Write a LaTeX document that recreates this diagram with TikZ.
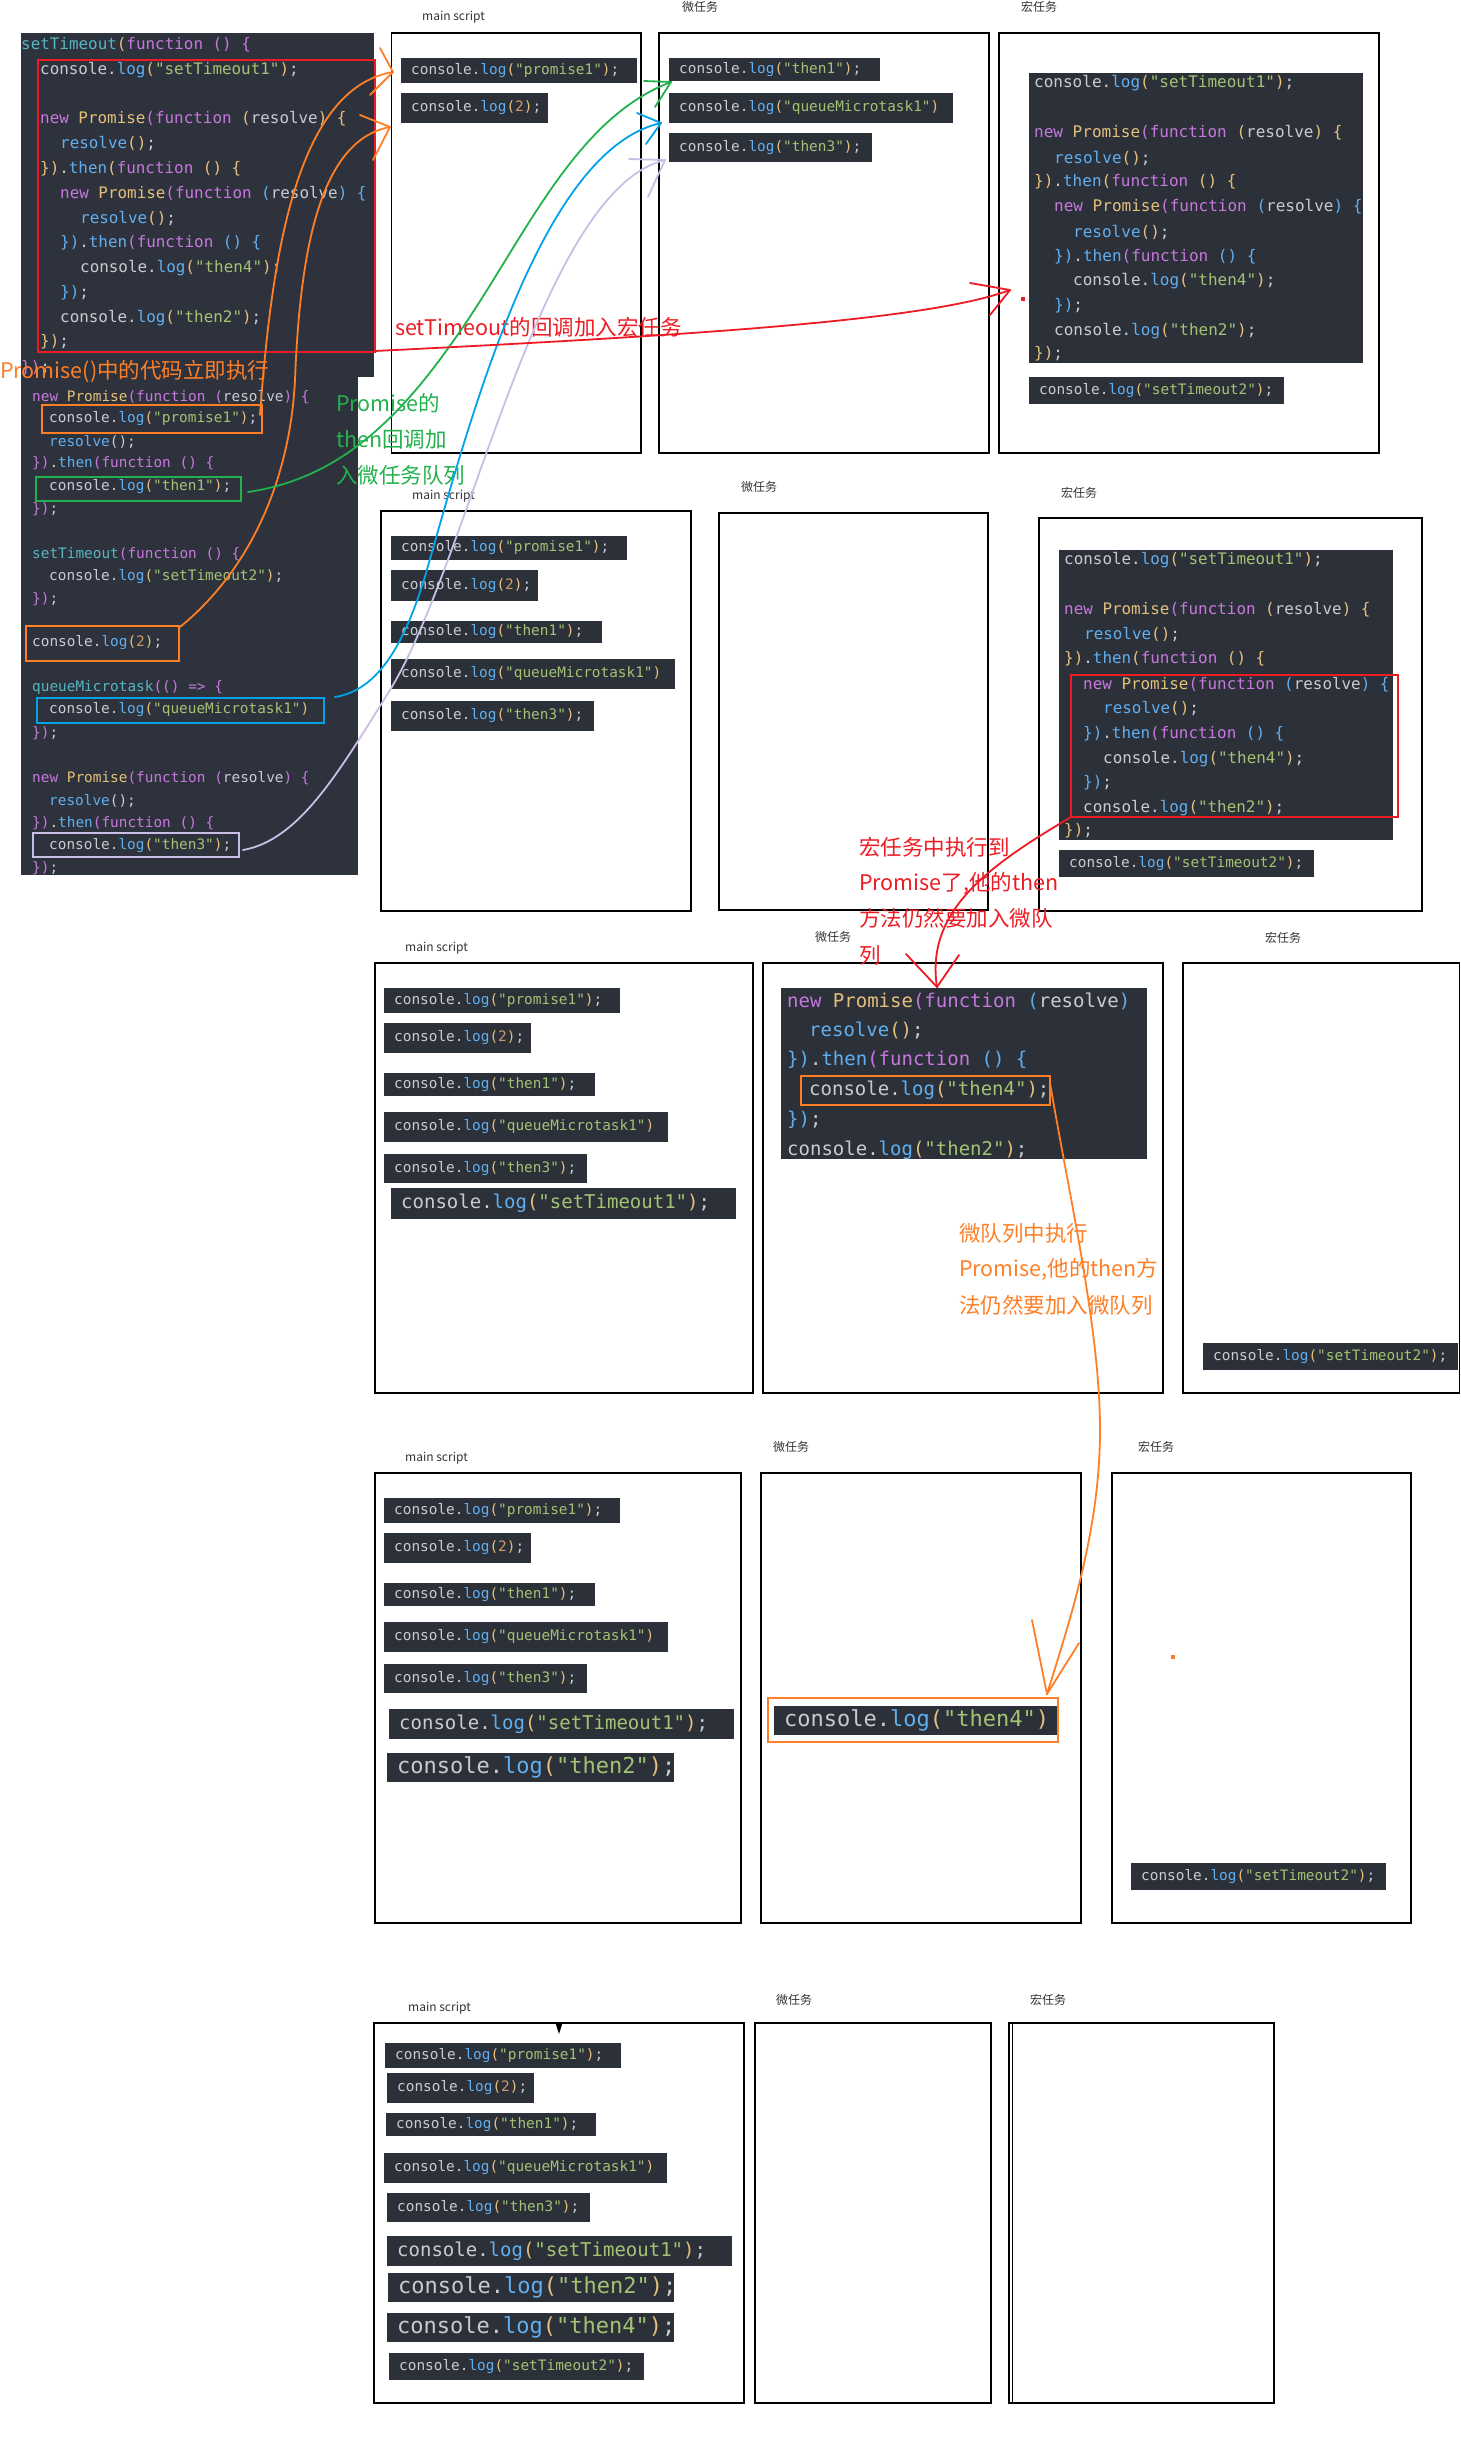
\documentclass[tikz,border=0pt]{standalone}
\usepackage{fontspec}
\usepackage{xcolor}
\newfontfamily\cjk{Noto Sans CJK SC}
\newfontfamily\codefont{DejaVu Sans Mono}
\definecolor{codebg}{RGB}{44,48,57}
\definecolor{panelbg}{RGB}{46,50,60}
\definecolor{ctxt}{RGB}{200,204,210}
\definecolor{cblue}{RGB}{97,175,239}
\definecolor{cgreen}{RGB}{163,195,116}
\definecolor{cgold}{RGB}{229,192,123}
\definecolor{cpur}{RGB}{198,120,221}
\definecolor{ccyan}{RGB}{86,182,194}
\definecolor{corg}{RGB}{209,154,102}
\definecolor{aorange}{RGB}{255,127,39}
\definecolor{ared}{RGB}{237,28,36}
\definecolor{agreen}{RGB}{34,177,76}
\definecolor{ablue}{RGB}{0,162,232}
\definecolor{alav}{RGB}{200,191,231}
\newcommand\fsz[1]{\fontsize{#1}{#1}\selectfont}
\newcommand\jP[1]{\textcolor{cpur}{#1}}
\newcommand\jG[1]{\textcolor{cgold}{#1}}
\newcommand\jB[1]{\textcolor{cblue}{#1}}
\newcommand\jC[1]{\textcolor{ccyan}{#1}}
\newcommand\jS[1]{\textcolor{cgreen}{#1}}
\newcommand\jO[1]{\textcolor{corg}{#1}}
\newcommand\clog[1]{console.\jB{log}\jG{(}\jS{"#1"}\jG{)};}
\newcommand\clogn[1]{console.\jB{log}\jG{(}\jS{"#1"}\jG{)}}
\newcommand\cltwo{console.\jB{log}\jG{(}\jO{2}\jG{)};}
\newcommand\cl[5]{\node[ctext,font=\codefont\fsz{#4}] (#1) at (#2,#3) {#5};}
\newcommand\cbox[7]{\fill[codebg] (#2,#3) rectangle (#4,#5);
  \node[ctext,font=\codefont\fsz{#6}] (#1) at ({#2+10},{(#3+#5)/2}) {#7};}
\tikzset{
  panel/.style={draw=black, line width=1.3pt},
  lbl/.style={anchor=west, inner sep=0pt, font=\cjk\fsz{12}, text=black!80},
  ann/.style={anchor=west, inner sep=0pt, font=\cjk\fsz{21.5}},
  ctext/.style={anchor=west, inner sep=0pt, text=ctxt},
  hand/.style={line width=1.8pt, line cap=round, line join=round},
  hl/.style={line width=2pt},
}
\begin{document}
\begin{tikzpicture}[x=1pt,y=-1pt]
\fill[white] (0,0) rectangle (1461,2447);
\useasboundingbox (0,0) rectangle (1461,2447);

% ---------------- left code panel ----------------
\fill[panelbg] (21,33) rectangle (374,377);
\fill[panelbg] (21,377) rectangle (358,875);
\cl{lt1}{21}{45}{15.9}{\jC{setTimeout}\jG{(}\jP{function} \jP{()} \jP{\{}}
\cl{lt2}{40}{70}{15.9}{\clog{setTimeout1}}
\cl{lt3}{40}{119}{15.9}{\jP{new} \jG{Promise}\jP{(function} \jG{(}resolve\jG{)} \jG{\{}}
\cl{lt4}{60}{144}{15.9}{\jB{resolve}\jG{()};}
\cl{lt5}{40}{169}{15.9}{\jG{\})}.\jB{then}\jG{(}\jP{function} \jG{()} \jG{\{}}
\cl{lt6}{60}{194}{15.9}{\jP{new} \jG{Promise}\jP{(function} \jB{(}resolve\jB{)} \jB{\{}}
\cl{lt7}{80}{219}{15.9}{\jB{resolve}\jG{()};}
\cl{lt8}{60}{243}{15.9}{\jB{\})}.\jB{then}\jP{(function} \jB{()} \jB{\{}}
\cl{lt9}{80}{268}{15.9}{\clog{then4}}
\cl{lt10}{60}{293}{15.9}{\jB{\})};}
\cl{lt11}{60}{318}{15.9}{\clog{then2}}
\cl{lt12}{40}{342}{15.9}{\jG{\})};}
\cl{lt13}{21}{368}{15.9}{\jP{\})};}

\cl{lb1}{32}{397}{14.4}{\jP{new} \jG{Promise}\jP{(function} \jP{(}resolve\jP{)} \jP{\{}}
\cl{lb2}{49}{419}{14.4}{\clog{promise1}}
\cl{lb3}{49}{442}{14.4}{\jB{resolve}();}
\cl{lb4}{32}{463}{14.4}{\jP{\})}.\jB{then}\jP{(function} \jP{()} \jP{\{}}
\cl{lb5}{49}{487}{14.4}{\clog{then1}}
\cl{lb6}{32}{509}{14.4}{\jP{\})};}
\cl{lb7}{32}{554}{14.4}{\jC{setTimeout}\jP{(function} \jP{()} \jP{\{}}
\cl{lb8}{49}{577}{14.4}{\clog{setTimeout2}}
\cl{lb9}{32}{599}{14.4}{\jP{\})};}
\cl{lb10}{32}{643}{14.4}{\cltwo}
\cl{lb11}{32}{688}{14.4}{\jC{queueMicrotask}\jP{(()} \jP{=>} \jP{\{}}
\cl{lb12}{49}{710}{14.4}{\clogn{queueMicrotask1}}
\cl{lb13}{32}{733}{14.4}{\jP{\})};}
\cl{lb14}{32}{778}{14.4}{\jP{new} \jG{Promise}\jP{(function} \jP{(}resolve\jP{)} \jP{\{}}
\cl{lb15}{49}{801}{14.4}{\jB{resolve}();}
\cl{lb16}{32}{823}{14.4}{\jP{\})}.\jB{then}\jP{(function} \jP{()} \jP{\{}}
\cl{lb17}{49}{846}{14.4}{\clog{then3}}
\cl{lb18}{32}{868}{14.4}{\jP{\})};}

\draw[ared,hl] (38,60) rectangle (375,352);
\draw[aorange,hl] (42,405) rectangle (262,433);
\draw[agreen,hl] (36,477) rectangle (241,501);
\draw[aorange,hl] (26,626) rectangle (179,661);
\draw[ablue,hl] (37,698) rectangle (324,723);
\draw[alav,hl] (33,833) rectangle (239,857);

% ---------------- row 1 ----------------
\node[lbl] (r1ms) at (422,17) {main script};
\node[lbl] (r1mi) at (682,7) {微任务};
\node[lbl] (r1ma) at (1021,7) {宏任务};
\draw[panel] (391.5,33) rectangle (641,453);
\draw[panel] (659,33) rectangle (989,453);
\draw[panel] (999,33) rectangle (1379,453);
\cbox{r1p1}{401}{58}{637}{83}{14.4}{\clog{promise1}}
\cbox{r1p2}{401}{93}{548}{123}{14.4}{\cltwo}
\cbox{r1u1}{669}{58}{880}{81}{14.4}{\clog{then1}}
\cbox{r1u2}{669}{93}{953}{123}{14.4}{\clogn{queueMicrotask1}}
\cbox{r1u3}{669}{133}{872}{162}{14.4}{\clog{then3}}
\fill[codebg] (1029,73) rectangle (1363,363);
\cl{m1}{1034}{83}{16}{\clog{setTimeout1}}
\cl{m2}{1034}{133}{16}{\jP{new} \jG{Promise}\jP{(function} \jG{(}resolve\jG{)} \jG{\{}}
\cl{m3}{1054}{158}{16}{\jB{resolve}\jG{()};}
\cl{m4}{1034}{182}{16}{\jG{\})}.\jB{then}\jG{(}\jP{function} \jG{()} \jG{\{}}
\cl{m5}{1054}{207}{16}{\jP{new} \jG{Promise}\jP{(function} \jB{(}resolve\jB{)} \jB{\{}}
\cl{m6}{1073}{232}{16}{\jB{resolve}\jG{()};}
\cl{m7}{1054}{257}{16}{\jB{\})}.\jB{then}\jP{(function} \jB{()} \jB{\{}}
\cl{m8}{1073}{281}{16}{\clog{then4}}
\cl{m9}{1054}{306}{16}{\jB{\})};}
\cl{m10}{1054}{331}{16}{\clog{then2}}
\cl{m11}{1034}{354}{16}{\jG{\})};}
\cbox{r1a2}{1029}{377}{1284}{404}{14.4}{\clog{setTimeout2}}

% ---------------- row 2 ----------------
\node[lbl] (r2ms) at (412,496) {main script};
\node[lbl] (r2mi) at (741,487) {微任务};
\node[lbl] (r2ma) at (1061,493) {宏任务};
\draw[panel] (381,511) rectangle (691,911);
\draw[panel] (719,513) rectangle (988,910);
\draw[panel] (1039,518) rectangle (1422,911);
\cbox{r2p1}{391}{536}{627}{560}{14.4}{\clog{promise1}}
\cbox{r2p2}{391}{570}{538}{601}{14.4}{\cltwo}
\cbox{r2p3}{391}{621}{602}{643}{14.4}{\clog{then1}}
\cbox{r2p4}{391}{659}{675}{689}{14.4}{\clogn{queueMicrotask1}}
\cbox{r2p5}{391}{701}{594}{731}{14.4}{\clog{then3}}
\fill[codebg] (1059,550) rectangle (1393,840);
\cl{n1}{1064}{560}{15.9}{\clog{setTimeout1}}
\cl{n2}{1064}{610}{15.9}{\jP{new} \jG{Promise}\jP{(function} \jG{(}resolve\jG{)} \jG{\{}}
\cl{n3}{1084}{635}{15.9}{\jB{resolve}\jG{()};}
\cl{n4}{1064}{659}{15.9}{\jG{\})}.\jB{then}\jG{(}\jP{function} \jG{()} \jG{\{}}
\cl{n5}{1083}{685}{15.9}{\jP{new} \jG{Promise}\jP{(function} \jB{(}resolve\jB{)} \jB{\{}}
\cl{n6}{1103}{709}{15.9}{\jB{resolve}\jG{()};}
\cl{n7}{1083}{734}{15.9}{\jB{\})}.\jB{then}\jP{(function} \jB{()} \jB{\{}}
\cl{n8}{1103}{759}{15.9}{\clog{then4}}
\cl{n9}{1083}{783}{15.9}{\jB{\})};}
\cl{n10}{1083}{808}{15.9}{\clog{then2}}
\cl{n11}{1064}{831}{15.9}{\jG{\})};}
\draw[ared,hl] (1071,675) rectangle (1398,817);
\cbox{r2a2}{1059}{850}{1314}{877}{14.4}{\clog{setTimeout2}}

% ---------------- row 3 ----------------
\node[lbl] (r3ms) at (405,948) {main script};
\node[lbl] (r3mi) at (815,937) {微任务};
\node[lbl] (r3ma) at (1265,938) {宏任务};
\draw[panel] (375,963) rectangle (753,1393);
\draw[panel] (763,963) rectangle (1163,1393);
\draw[panel] (1183,963) rectangle (1459.5,1393);
\cbox{r3p1}{384}{988}{620}{1013}{14.4}{\clog{promise1}}
\cbox{r3p2}{384}{1023}{531}{1053}{14.4}{\cltwo}
\cbox{r3p3}{384}{1073}{595}{1096}{14.4}{\clog{then1}}
\cbox{r3p4}{384}{1112}{668}{1142}{14.4}{\clogn{queueMicrotask1}}
\cbox{r3p5}{384}{1154}{587}{1183}{14.4}{\clog{then3}}
\cbox{r3p6}{391}{1188}{736}{1219}{19}{\clog{setTimeout1}}
\fill[codebg] (781,988) rectangle (1147,1159);
\cl{u1}{787}{1001}{19}{\jP{new} \jG{Promise}\jP{(function} \jB{(}resolve\jB{)}}
\cl{u2}{809}{1031}{19}{\jB{resolve}\jG{()};}
\cl{u3}{787}{1060}{19}{\jB{\})}.\jB{then}\jP{(function} \jB{()} \jB{\{}}
\cl{u4}{809}{1090}{19}{\clog{then4}}
\cl{u5}{787}{1120}{19}{\jB{\})};}
\cl{u6}{787}{1150}{19}{\clog{then2}}
\draw[aorange,hl] (801,1076) rectangle (1050,1105);
\cbox{r3a1}{1203}{1343}{1458}{1370}{14.4}{\clog{setTimeout2}}

% ---------------- row 4 ----------------
\node[lbl] (r4ms) at (405,1458) {main script};
\node[lbl] (r4mi) at (773,1447) {微任务};
\node[lbl] (r4ma) at (1138,1447) {宏任务};
\draw[panel] (375,1473) rectangle (741,1923);
\draw[panel] (761,1473) rectangle (1081,1923);
\draw[panel] (1112,1473) rectangle (1411,1923);
\cbox{r4p1}{384}{1498}{620}{1523}{14.4}{\clog{promise1}}
\cbox{r4p2}{384}{1533}{531}{1563}{14.4}{\cltwo}
\cbox{r4p3}{384}{1583}{595}{1606}{14.4}{\clog{then1}}
\cbox{r4p4}{384}{1622}{668}{1652}{14.4}{\clogn{queueMicrotask1}}
\cbox{r4p5}{384}{1664}{587}{1693}{14.4}{\clog{then3}}
\cbox{r4p6}{389}{1709}{734}{1739}{19}{\clog{setTimeout1}}
\cbox{r4p7}{387}{1753}{674}{1782}{22}{\clog{then2}}
\cbox{r4u1}{774}{1706}{1058}{1735}{22}{\clogn{then4}}
\draw[aorange,hl] (768,1698) rectangle (1058,1742);
\fill[aorange] (1171,1655) rectangle (1175,1659);
\cbox{r4a1}{1131}{1863}{1386}{1890}{14.4}{\clog{setTimeout2}}

% ---------------- row 5 ----------------
\node[lbl] (r5ms) at (408,2008) {main script};
\node[lbl] (r5mi) at (776,2000) {微任务};
\node[lbl] (r5ma) at (1030,2000) {宏任务};
\draw[panel] (374,2023) rectangle (744,2403);
\draw[panel] (755,2023) rectangle (991,2403);
\draw[panel] (1009,2023) rectangle (1274,2403);
\draw[line width=1pt] (1012.5,2023) -- (1012.5,2403);
\fill[black] (555.5,2023) -- (562.5,2023) -- (559,2034) -- cycle;
\cbox{r5p1}{385}{2043}{621}{2068}{14.4}{\clog{promise1}}
\cbox{r5p2}{387}{2073}{534}{2103}{14.4}{\cltwo}
\cbox{r5p3}{386}{2113}{596}{2136}{14.4}{\clog{then1}}
\cbox{r5p4}{384}{2153}{667}{2183}{14.4}{\clogn{queueMicrotask1}}
\cbox{r5p5}{387}{2193}{590}{2222}{14.4}{\clog{then3}}
\cbox{r5p6}{387}{2236}{732}{2266}{19}{\clog{setTimeout1}}
\cbox{r5p7}{388}{2273}{674}{2302}{22}{\clog{then2}}
\cbox{r5p8}{387}{2313}{674}{2342}{22}{\clog{then4}}
\cbox{r5p9}{389}{2353}{644}{2380}{14.4}{\clog{setTimeout2}}

% ---------------- annotation texts ----------------
\node[ann,text=aorange] (tPr) at (0,372) {Promise()中的代码立即执行};
\node[ann,text=ared] (tSt) at (395,327) {setTimeout的回调加入宏任务};
\node[ann,text=agreen] (tG1) at (336,403) {Promise的};
\node[ann,text=agreen] (tG2) at (336,439) {then回调加};
\node[ann,text=agreen] (tG3) at (336,475) {入微任务队列};
\node[ann,text=ared] (tR1) at (859,847) {宏任务中执行到};
\node[ann,text=ared] (tR2) at (859,883) {Promise了,他的then};
\node[ann,text=ared] (tR3) at (859,918) {方法仍然要加入微队};
\node[ann,text=ared] (tR4) at (859,955) {列};
\node[ann,text=aorange] (tO1) at (959,1233) {微队列中执行};
\node[ann,text=aorange] (tO2) at (959,1269) {Promise,他的then方};
\node[ann,text=aorange] (tO3) at (959,1305) {法仍然要加入微队列};

% ---------------- annotation arrows ----------------
\coordinate (oA0) at (260,415); \coordinate (oA1) at (393,72);
\draw[hand,aorange] (oA0) .. controls (272,250) and (298,88) .. (oA1);
\draw[hand,aorange] (oA1) -- (380,48); \draw[hand,aorange] (oA1) -- (370,95);
\coordinate (oB0) at (180,627); \coordinate (oB1) at (390,127);
\draw[hand,aorange] (oB0) .. controls (250,570) and (290,480) .. (295,380) .. controls (300,250) and (320,140) .. (oB1);
\draw[hand,aorange] (oB1) -- (360,115); \draw[hand,aorange] (oB1) -- (373,160);
\coordinate (gA0) at (248,492); \coordinate (gA1) at (671,82);
\draw[hand,agreen] (gA0) .. controls (330,480) and (390,430) .. (449,347) .. controls (520,250) and (570,120) .. (gA1);
\draw[hand,agreen] (gA1) -- (644,81); \draw[hand,agreen] (gA1) -- (655,107);
\coordinate (bA0) at (335,697); \coordinate (bA1) at (661,123);
\draw[hand,ablue] (bA0) .. controls (380,690) and (405,640) .. (424,580) .. controls (470,420) and (540,150) .. (bA1);
\draw[hand,ablue] (bA1) -- (637,113); \draw[hand,ablue] (bA1) -- (646,144);
\coordinate (lA0) at (243,850); \coordinate (lA1) at (665,160);
\draw[hand,alav] (lA0) .. controls (300,840) and (340,770) .. (390,690) .. controls (470,560) and (540,190) .. (lA1);
\draw[hand,alav] (lA1) -- (629,159); \draw[hand,alav] (lA1) -- (648,197);
\coordinate (rA0) at (375,351); \coordinate (rA1) at (1010,290);
\draw[hand,ared] (rA0) .. controls (700,335) and (930,320) .. (rA1);
\draw[hand,ared] (rA1) -- (970,283); \draw[hand,ared] (rA1) -- (990,315);
\fill[ared] (1021,297) rectangle (1025,301);
\coordinate (rB0) at (1071,817); \coordinate (rB1) at (937,987);
\draw[hand,ared] (rB0) .. controls (990,865) and (925,910) .. (rB1);
\draw[hand,ared] (rB1) -- (906,954); \draw[hand,ared] (rB1) -- (959,955);
\coordinate (oC0) at (1050,1083); \coordinate (oC1) at (1047,1694);
\draw[hand,aorange] (oC0) .. controls (1070,1200) and (1100,1330) .. (1100,1430) .. controls (1100,1530) and (1070,1620) .. (oC1);
\draw[hand,aorange] (oC1) -- (1032,1620); \draw[hand,aorange] (oC1) -- (1079,1643);
\end{tikzpicture}
\end{document}
